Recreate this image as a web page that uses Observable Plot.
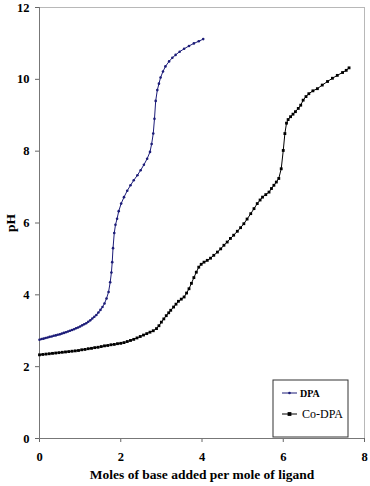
<!DOCTYPE html>
<html>
<head>
<meta charset="utf-8">
<script src="https://cdn.jsdelivr.net/npm/d3@7"></script>
<script src="https://cdn.jsdelivr.net/npm/@observablehq/plot@0.6"></script>
<style>
  html, body { margin: 0; padding: 0; background: #fff; }
  #chart { width: 370px; height: 486px; }
</style>
</head>
<body>
<div id="chart"></div>
<script>
const xTicks = [0, 2, 4, 6, 8];
const yTicks = [0, 2, 4, 6, 8, 10, 12];
const seriesNames = ["DPA", "Co-DPA"];
const xLabel = "Moles of base added per mole of ligand";
const yLabel = "pH";

const dpaX = [0.00,0.05,0.10,0.15,0.20,0.25,0.30,0.35,0.40,0.45,0.50,0.55,0.60,0.65,0.70,0.75,0.80,0.85,0.90,0.95,
  1.00,1.05,1.10,1.15,1.20,1.25,1.30,1.35,1.40,1.45,1.50,1.55,1.60,1.65,1.70,1.74,1.77,1.79,1.81,1.84,1.87,1.91,1.95,
  2.01,2.08,2.16,2.24,2.32,2.41,2.49,2.57,2.65,2.72,2.76,2.80,2.83,2.86,2.90,2.94,2.98,3.04,3.10,3.19,3.27,3.35,3.45,
  3.56,3.68,3.80,3.92,4.03];
const dpaPH = [2.75,2.77,2.78,2.80,2.81,2.83,2.84,2.86,2.87,2.89,2.90,2.92,2.94,2.96,2.98,3.00,3.02,3.04,3.07,3.09,
  3.12,3.15,3.18,3.21,3.25,3.29,3.34,3.39,3.44,3.51,3.58,3.66,3.76,3.90,4.08,4.35,4.62,4.91,5.30,5.72,5.95,6.12,6.33,
  6.54,6.72,6.90,7.05,7.19,7.33,7.47,7.62,7.79,7.98,8.20,8.49,8.90,9.40,9.70,9.88,10.05,10.22,10.36,10.50,10.60,10.68,10.77,
  10.85,10.93,11.00,11.06,11.12];

const coX = [0.00,0.08,0.16,0.24,0.32,0.40,0.48,0.56,0.64,0.72,0.80,0.88,0.96,1.04,1.12,1.20,1.28,1.36,1.44,1.52,
  1.60,1.68,1.76,1.84,1.92,2.00,2.08,2.16,2.24,2.32,2.40,2.48,2.56,2.64,2.72,2.80,2.88,2.94,3.00,3.06,3.12,3.18,3.23,
  3.30,3.36,3.42,3.49,3.56,3.62,3.68,3.74,3.80,3.86,3.92,3.98,4.05,4.13,4.21,4.29,4.38,4.46,4.54,4.62,4.70,4.78,4.87,
  4.95,5.03,5.11,5.20,5.28,5.36,5.43,5.49,5.57,5.65,5.71,5.77,5.83,5.89,5.95,6.00,6.04,6.08,6.12,6.18,6.24,6.30,6.37,
  6.43,6.49,6.56,6.63,6.73,6.84,6.96,7.09,7.21,7.33,7.46,7.55,7.62];
const coPH = [2.33,2.34,2.35,2.36,2.37,2.38,2.39,2.40,2.41,2.42,2.43,2.44,2.45,2.47,2.48,2.50,2.51,2.53,2.54,2.56,
  2.58,2.59,2.61,2.62,2.64,2.65,2.67,2.70,2.73,2.76,2.80,2.84,2.88,2.92,2.96,3.00,3.06,3.14,3.24,3.33,3.42,3.50,3.57,
  3.66,3.74,3.82,3.88,3.94,4.05,4.17,4.32,4.48,4.63,4.77,4.85,4.91,4.96,5.02,5.10,5.19,5.28,5.38,5.47,5.57,5.66,5.77,
  5.87,5.98,6.11,6.26,6.40,6.54,6.64,6.72,6.79,6.86,6.96,7.05,7.14,7.24,7.51,8.02,8.49,8.78,8.88,8.96,9.03,9.10,9.19,
  9.28,9.42,9.52,9.60,9.68,9.74,9.84,9.94,10.03,10.11,10.19,10.25,10.32];

const dpa = dpaX.map((x, i) => ({x, y: dpaPH[i]}));
const co = coX.map((x, i) => ({x, y: coPH[i]}));

const navy = "#1c1c78";
const font = "'Liberation Serif', 'Times New Roman', serif";

const svg = Plot.plot({
  width: 370,
  height: 486,
  marginTop: 7,
  marginRight: 6,
  marginBottom: 48,
  marginLeft: 39,
  style: {fontFamily: font, fontSize: "12.5px", fontWeight: "bold", background: "#fff", color: "#000"},
  x: {domain: [0, 8], ticks: xTicks},
  y: {domain: [0, 12], ticks: yTicks},
  marks: [
    Plot.frame({stroke: "#b8b8b8"}),
    Plot.axisX({ticks: xTicks, tickSize: 4, tickPadding: 10, label: null, stroke: "#666"}),
    Plot.axisX({ticks: [], tickSize: 0, label: xLabel, labelAnchor: "center", labelOffset: 40, labelArrow: "none", fontSize: 13.5}),
    Plot.axisY({ticks: yTicks, tickSize: 4, tickPadding: 6, label: null, stroke: "#666"}),
    Plot.axisY({ticks: [], tickSize: 0, label: yLabel, labelAnchor: "center", labelOffset: 34, labelArrow: "none", fontSize: 13.5}),
    Plot.ruleX([0], {stroke: "#777"}),
    Plot.ruleY([0], {stroke: "#777"}),
    Plot.line(co, {x: "x", y: "y", stroke: "#000", strokeWidth: 1}),
    Plot.dot(co, {x: "x", y: "y", symbol: "square", r: 1.6, fill: "#000", stroke: "none"}),
    Plot.line(dpa, {x: "x", y: "y", stroke: navy, strokeWidth: 1}),
    Plot.dot(dpa, {x: "x", y: "y", r: 1.3, fill: navy, stroke: "none"})
  ]
});

// Legend inset
const g = d3.select(svg).append("g").attr("font-family", font).attr("text-anchor", "start");
g.append("rect").attr("x", 273).attr("y", 380).attr("width", 75).attr("height", 57)
  .attr("fill", "#fff").attr("stroke", "#333").attr("stroke-width", 1);
g.append("line").attr("x1", 282).attr("x2", 297).attr("y1", 393).attr("y2", 393).attr("stroke", navy);
g.append("circle").attr("cx", 289.5).attr("cy", 393).attr("r", 1.3).attr("fill", navy);
g.append("text").attr("x", 300).attr("y", 397).attr("font-size", 10).attr("font-weight", "bold").attr("text-anchor", "start").text(seriesNames[0]);
g.append("line").attr("x1", 282).attr("x2", 297).attr("y1", 414).attr("y2", 414).attr("stroke", "#000");
g.append("rect").attr("x", 287.6).attr("y", 412.1).attr("width", 3.8).attr("height", 3.8).attr("fill", "#000");
g.append("text").attr("x", 302).attr("y", 418).attr("font-size", 12).attr("font-weight", "normal").attr("text-anchor", "start").text(seriesNames[1]);

document.getElementById("chart").appendChild(svg);
</script>
</body>
</html>
